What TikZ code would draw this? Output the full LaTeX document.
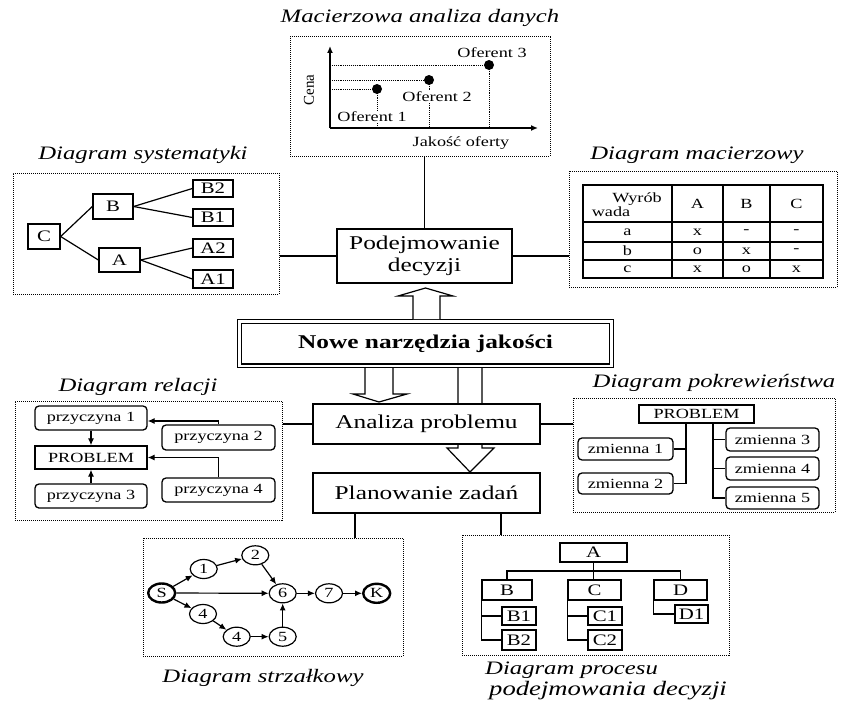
\documentclass[tikz,border=0pt]{standalone}
\usepackage{fontspec}
\setmainfont{Liberation Serif}[FakeStretch=1.3]
\newfontfamily\plainserif{Liberation Serif}
\usetikzlibrary{arrows.meta,shapes.geometric}
\tikzset{
  every node/.style={inner sep=0pt},
  ln/.style={line width=1.2pt},
  bx/.style={draw, line width=1.3pt, fill=white},
  rbx/.style={draw, line width=1.3pt, rounded corners=4pt, fill=white},
  dbox/.style={draw, line width=1pt, densely dotted},
  ttl/.style={font=\fontsize{19}{22}\selectfont\itshape},
  big/.style={font=\fontsize{19.5}{22}\selectfont},
  small/.style={font=\fontsize{14}{16}\selectfont},
  tree/.style={font=\fontsize{16}{18}\selectfont},
  tab/.style={font=\fontsize{14}{15}\selectfont},
  circ/.style={draw, ellipse, line width=1.2pt, minimum width=27pt, minimum height=19pt, font=\fontsize{14}{16}\selectfont, fill=white},
  tip/.style={-{Latex[length=7pt,width=6pt]}, line width=1.2pt},
  hollow/.style={draw, line width=1.2pt, fill=white, line join=miter},
}
\begin{document}
\begin{tikzpicture}[x=1pt,y=-1pt]
\path[use as bounding box] (0,0) rectangle (842,706);

% ---------- top: Macierzowa analiza danych ----------
\node[ttl] (t1) at (420,18) {Macierzowa analiza danych};
\node[dbox, minimum width=260pt, minimum height=119pt] (mad) at (420,96.5) {};
\coordinate (o) at (330,128);
\coordinate (ytop) at (330,46);
\coordinate (xend) at (538,128);
\draw[tip, line width=1.4pt] (o) -- (ytop);
\draw[tip, line width=1.4pt] (o) -- (xend);
\node[rotate=90, font=\plainserif\fontsize{15}{17}\selectfont] (cena) at (309,90) {Cena};
\node[small] (jak) at (461,143) {Jakość oferty};
\coordinate (d1) at (377,89);
\coordinate (d2) at (429,80);
\coordinate (d3) at (489,65);
\draw[densely dotted, line width=0.9pt] (d1 -| o) -- (d1);
\draw[densely dotted, line width=0.9pt] (d2 -| o) -- (d2);
\draw[densely dotted, line width=0.9pt] (d3 -| o) -- (d3);
\draw[densely dotted, line width=0.9pt] (d1) -- (d1 |- o);
\draw[densely dotted, line width=0.9pt] (d2) -- (d2 |- o);
\draw[densely dotted, line width=0.9pt] (d3) -- (d3 |- o);
\fill (d1) circle (5pt);
\fill (d2) circle (5pt);
\fill (d3) circle (5pt);
\node[small, fill=white, inner sep=1pt] (of1) at (372,117) {Oferent 1};
\node[small, fill=white, inner sep=1pt] (of2) at (437,97) {Oferent 2};
\node[small] (of3) at (492,53) {Oferent 3};

% ---------- Podejmowanie decyzji ----------
\node[bx, big, align=center, minimum width=175pt, minimum height=54pt] (pd) at (424.5,256) {Podejmowanie\\decyzji};
\draw[ln] (pd.north) -- (pd.north |- mad.south);

% ---------- Diagram systematyki ----------
\node[ttl] (t2) at (143,155) {Diagram systematyki};
\node[dbox, minimum width=266pt, minimum height=121pt] (syst) at (146,233.5) {};
\node[bx, tree, minimum width=32pt, minimum height=25pt] (sC) at (44,236.5) {C};
\node[bx, tree, minimum width=40pt, minimum height=25pt] (sB) at (113,206.5) {B};
\node[bx, tree, minimum width=41pt, minimum height=24pt] (sA) at (119.5,260) {A};
\node[bx, tree, minimum width=40pt, minimum height=17pt] (sB2) at (213,188.5) {B2};
\node[bx, tree, minimum width=40pt, minimum height=17pt] (sB1) at (213,217.5) {B1};
\node[bx, tree, minimum width=40pt, minimum height=18pt] (sA2) at (213,248) {A2};
\node[bx, tree, minimum width=40pt, minimum height=18pt] (sA1) at (213,279) {A1};
\draw[ln] (sC.east) -- (sB.west);
\draw[ln] (sC.east) -- (sA.west);
\draw[ln] (sB.east) -- (sB2.west);
\draw[ln] (sB.east) -- (sB1.west);
\draw[ln] (sA.east) -- (sA2.west);
\draw[ln] (sA.east) -- (sA1.west);
\draw[ln] (pd.west) -- (pd.west -| syst.east);

% ---------- Diagram macierzowy ----------
\node[ttl] (t3) at (697,155) {Diagram macierzowy};
\node[dbox, minimum width=268pt, minimum height=116pt] (mac) at (703,229) {};
\draw[line width=1.4pt] (583,185) rectangle (823,278);
\draw[line width=1.2pt] (583,222) -- (823,222);
\draw[line width=1.2pt] (583,242) -- (823,242);
\draw[line width=1.2pt] (583,260) -- (823,260);
\draw[line width=1.4pt] (672,185) -- (672,278);
\draw[line width=1.4pt] (723,185) -- (723,278);
\draw[line width=1.4pt] (770,185) -- (770,278);
\node[tab] (wyr) at (637,199) {Wyrób};
\node[tab] (wad) at (611,212) {wada};
\node[tab] (hA) at (697.5,204) {A};
\node[tab] (hB) at (746.5,204) {B};
\node[tab] (hC) at (796.5,204) {C};
\node[tab] (ra) at (627.5,232) {a};
\node[tab] (rb) at (627.5,251) {b};
\node[tab] (rc) at (627.5,269) {c};
\node[tab] (a1) at (697.5,232) {x};
\node[tab] (a2) at (746.5,232) {-};
\node[tab] (a3) at (796.5,232) {-};
\node[tab] (b1) at (697.5,251) {o};
\node[tab] (b2) at (746.5,251) {x};
\node[tab] (b3) at (796.5,251) {-};
\node[tab] (c1) at (697.5,269) {x};
\node[tab] (c2) at (746.5,269) {o};
\node[tab] (c3) at (796.5,269) {x};
\draw[ln] (pd.east) -- (pd.east -| mac.west);

% ---------- Nowe narzedzia jakosci ----------
\node[draw, double, line width=1.2pt, double distance=2.5pt, minimum width=372pt, minimum height=44.5pt, font=\fontsize{19.5}{22}\selectfont\bfseries] (nnj) at (425.5,343.5) {Nowe narzędzia jakości};
% up arrow
\path[hollow] (413,319) -- (413,296) -- (398,296) -- (425.5,288) -- (453,296) -- (440,296) -- (440,319);
% left down arrow
\path[hollow] (365,368) -- (365,394) -- (353,394) -- (379,402) -- (407,394) -- (393,394) -- (393,368);
% right down arrow
\path[hollow] (458,368) -- (458,448) -- (447,448) -- (470,472) -- (494,448) -- (482,448) -- (482,368);

% ---------- Analiza / Planowanie ----------
\node[bx, big, minimum width=227pt, minimum height=40pt] (an) at (426.5,424) {Analiza problemu};
\node[bx, big, minimum width=227pt, minimum height=40pt] (pl) at (426.5,493) {Planowanie zadań};

% ---------- Diagram relacji ----------
\node[ttl] (t4) at (138,387) {Diagram relacji};
\node[dbox, minimum width=267pt, minimum height=119pt] (rel) at (148.5,460.5) {};
\node[rbx, small, minimum width=112pt, minimum height=24pt] (p1) at (91,418) {przyczyna 1};
\node[bx, small, minimum width=112pt, minimum height=23pt] (prb) at (91,457.5) {PROBLEM};
\node[rbx, small, minimum width=112pt, minimum height=24pt] (p3) at (91,496) {przyczyna 3};
\node[rbx, small, minimum width=113pt, minimum height=25pt] (p2) at (218.5,437.5) {przyczyna 2};
\node[rbx, small, minimum width=113pt, minimum height=24pt] (p4) at (218.5,490) {przyczyna 4};
\draw[tip] (p1.south) -- (prb.north);
\draw[tip] (p3.north) -- (prb.south);
\draw[tip] (p2.north) |- ([yshift=-3pt]p1.east);
\draw[tip] (p4.north) |- (prb.east);
\draw[ln] (an.west) -- (an.west -| rel.east);

% ---------- Diagram pokrewienstwa ----------
\node[ttl] (t5) at (714,383) {Diagram pokrewieństwa};
\node[dbox, minimum width=262pt, minimum height=114pt] (pok) at (704,455) {};
\node[bx, small, minimum width=115pt, minimum height=18pt] (pp) at (696.5,414) {PROBLEM};
\node[rbx, small, minimum width=95pt, minimum height=22pt] (z1) at (625.5,449) {zmienna 1};
\node[rbx, small, minimum width=95pt, minimum height=21pt] (z2) at (625.5,483.5) {zmienna 2};
\node[rbx, small, minimum width=93pt, minimum height=23pt] (z3) at (772.5,439.5) {zmienna 3};
\node[rbx, small, minimum width=93pt, minimum height=23pt] (z4) at (772.5,468.5) {zmienna 4};
\node[rbx, small, minimum width=93pt, minimum height=22pt] (z5) at (772.5,498) {zmienna 5};
\draw[ln] ([xshift=-10.5pt]pp.south) |- (z1.east);
\draw[ln] ([xshift=-10.5pt]pp.south) |- (z2.east);
\draw[ln] ([xshift=16.5pt]pp.south) |- (z3.west);
\draw[ln] ([xshift=16.5pt]pp.south) |- (z4.west);
\draw[ln] ([xshift=16.5pt]pp.south) |- (z5.west);
\draw[ln] (an.east) -- (an.east -| pok.west);

% ---------- Diagram strzalkowy ----------
\node[dbox, minimum width=260pt, minimum height=118pt] (strz) at (273,597) {};
\node[ttl] (t6) at (263,678) {Diagram strzałkowy};
\node[circ, line width=2.4pt] (nS) at (161.7,593) {S};
\node[circ] (n1) at (203.7,569) {1};
\node[circ] (n2) at (255.3,555.3) {2};
\node[circ] (n6) at (282.7,593.3) {6};
\node[circ] (n7) at (329,593.3) {7};
\node[circ, line width=2.4pt] (nK) at (376.7,593.3) {K};
\node[circ] (n4a) at (203,614) {4};
\node[circ] (n4b) at (236.7,636.7) {4};
\node[circ] (n5) at (282.7,636.7) {5};
\draw[tip] (nS) -- (n1);
\draw[tip] (n1) -- (n2);
\draw[tip] (n2) -- (n6);
\draw[tip] (nS) -- (n6);
\draw[tip] (nS) -- (n4a);
\draw[tip] (n4a) -- (n4b);
\draw[tip] (n4b) -- (n5);
\draw[tip] (n5) -- (n6);
\draw[tip] (n6) -- (n7);
\draw[tip] (n7) -- (nK);
\draw[ln] ([xshift=-71.5pt]pl.south) -- ([xshift=-71.5pt]pl.south |- strz.north);

% ---------- Diagram procesu podejmowania decyzji ----------
\node[dbox, minimum width=267pt, minimum height=120pt] (proc) at (595.5,595) {};
\node[ttl, align=left, anchor=north west, font=\fontsize{19}{20.5}\selectfont\itshape] (t7) at (485,662) {Diagram procesu\\\hspace*{4pt}{\fontsize{20.5}{20.5}\selectfont podejmowania decyzji}};
\node[bx, tree, minimum width=67pt, minimum height=19pt] (qA) at (593.5,552.5) {A};
\node[bx, tree, minimum width=50pt, minimum height=20pt] (qB) at (507,590) {B};
\node[bx, tree, minimum width=53pt, minimum height=20pt] (qC) at (594.5,590) {C};
\node[bx, tree, minimum width=53pt, minimum height=20pt] (qD) at (680.5,590) {D};
\node[bx, tree, minimum width=34pt, minimum height=18pt] (qB1) at (519,616) {B1};
\node[bx, tree, minimum width=34pt, minimum height=20pt] (qB2) at (519,640) {B2};
\node[bx, tree, minimum width=34pt, minimum height=18pt] (qC1) at (605,616) {C1};
\node[bx, tree, minimum width=34pt, minimum height=20pt] (qC2) at (605,640) {C2};
\node[bx, tree, minimum width=33pt, minimum height=18pt] (qD1) at (691.5,614) {D1};
\coordinate (hb) at (593.5,571);
\draw[ln] (qA.south) -- (qA.south |- qC.north);
\draw[ln] (qB.north) |- (hb) -| (qD.north);
\draw[ln] (qB.south west) |- (qB1.west);
\draw[ln] (qB.south west) |- (qB2.west);
\draw[ln] (qC.south west) |- (qC1.west);
\draw[ln] (qC.south west) |- (qC2.west);
\draw[ln] (qD.south west) |- (qD1.west);
\draw[ln] ([xshift=74.5pt]pl.south) -- ([xshift=74.5pt]pl.south |- proc.north);
\end{tikzpicture}
\end{document}
